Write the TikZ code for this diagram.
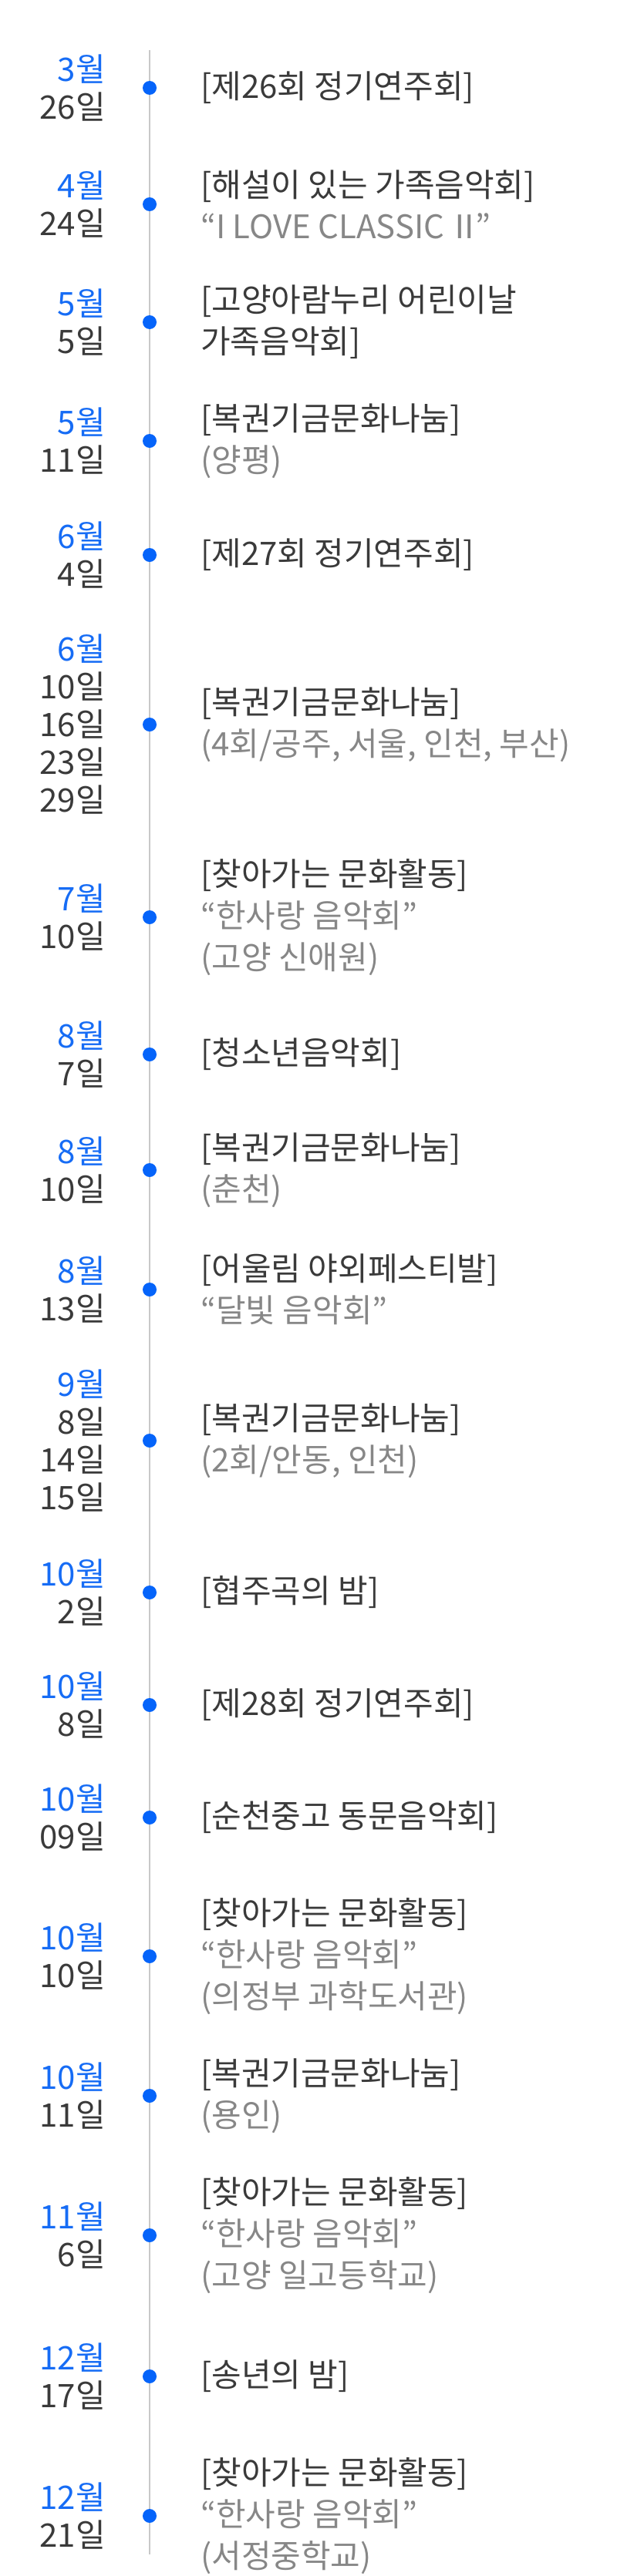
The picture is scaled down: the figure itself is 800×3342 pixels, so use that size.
\documentclass[tikz,border=0pt]{standalone}
\usepackage{fontspec}
\setmainfont{Noto Sans CJK KR}
\definecolor{mblue}{RGB}{22,108,245}
\definecolor{dotblue}{RGB}{5,100,250}
\definecolor{dgray}{RGB}{58,58,58}
\definecolor{sgray}{RGB}{135,135,135}
\definecolor{lgray}{RGB}{200,200,200}
\tikzset{
  dotn/.style={circle, fill=dotblue, minimum size=18pt, inner sep=0pt},
  datet/.style={anchor=east, align=right, inner sep=0pt, text=dgray, font=\fontsize{42}{49}\selectfont},
  evtt/.style={anchor=west, align=left, inner sep=0pt, text=dgray, font=\fontsize{42}{54}\selectfont},
  tline/.style={draw=lgray, line width=2pt}
}
\newcommand\evt[4]{%
  \node[dotn] (d#4) at (194,-#1) {};
  \node[datet] (m#4) at (137,-#1) {#2};
  \node[evtt] (e#4) at (260,-#1) {#3};
}
\newcommand\mo[1]{\textcolor{mblue}{#1}}
\newcommand\sub[1]{\textcolor{sgray}{#1}}
\begin{document}
\begin{tikzpicture}[x=1pt,y=1pt]
\useasboundingbox (0,0) rectangle (800,-3342);
\coordinate (top) at (194,-65);
\coordinate (bot) at (194,-3314);
\draw[tline] (top) -- (bot);
\evt{114}{\mo{3월}\\26일}{[제26회 정기연주회]}{1}
\evt{265}{\mo{4월}\\24일}{[해설이 있는 가족음악회]\\\sub{“I LOVE CLASSIC \kern-4ptⅡ\kern-7pt”}}{2}
\evt{418}{\mo{5월}\\5일}{[고양아람누리 어린이날\\가족음악회]}{3}
\evt{572}{\mo{5월}\\11일}{[복권기금문화나눔]\\\sub{(양평)}}{4}
\evt{720}{\mo{6월}\\4일}{[제27회 정기연주회]}{5}
\evt{940}{\mo{6월}\\10일\\16일\\23일\\29일}{[복권기금문화나눔]\\\sub{(4회/공주, 서울, 인천, 부산)}}{6}
\evt{1190}{\mo{7월}\\10일}{[찾아가는 문화활동]\\\sub{“한사랑 음악회”}\\\sub{(고양 신애원)}}{7}
\evt{1368}{\mo{8월}\\7일}{[청소년음악회]}{8}
\evt{1518}{\mo{8월}\\10일}{[복권기금문화나눔]\\\sub{(춘천)}}{9}
\evt{1673}{\mo{8월}\\13일}{[어울림 야외페스티발]\\\sub{“달빛 음악회”}}{10}
\evt{1869}{\mo{9월}\\8일\\14일\\15일}{[복권기금문화나눔]\\\sub{(2회/안동, 인천)}}{11}
\evt{2066}{\mo{10월}\\2일}{[협주곡의 밤]}{12}
\evt{2212}{\mo{10월}\\8일}{[제28회 정기연주회]}{13}
\evt{2358}{\mo{10월}\\09일}{[순천중고 동문음악회]}{14}
\evt{2538}{\mo{10월}\\10일}{[찾아가는 문화활동]\\\sub{“한사랑 음악회”}\\\sub{(의정부 과학도서관)}}{15}
\evt{2719}{\mo{10월}\\11일}{[복권기금문화나눔]\\\sub{(용인)}}{16}
\evt{2900}{\mo{11월}\\6일}{[찾아가는 문화활동]\\\sub{“한사랑 음악회”}\\\sub{(고양 일고등학교)}}{17}
\evt{3083}{\mo{12월}\\17일}{[송년의 밤]}{18}
\evt{3264}{\mo{12월}\\21일}{[찾아가는 문화활동]\\\sub{“한사랑 음악회”}\\\sub{(서정중학교)}}{19}
\end{tikzpicture}
\end{document}
